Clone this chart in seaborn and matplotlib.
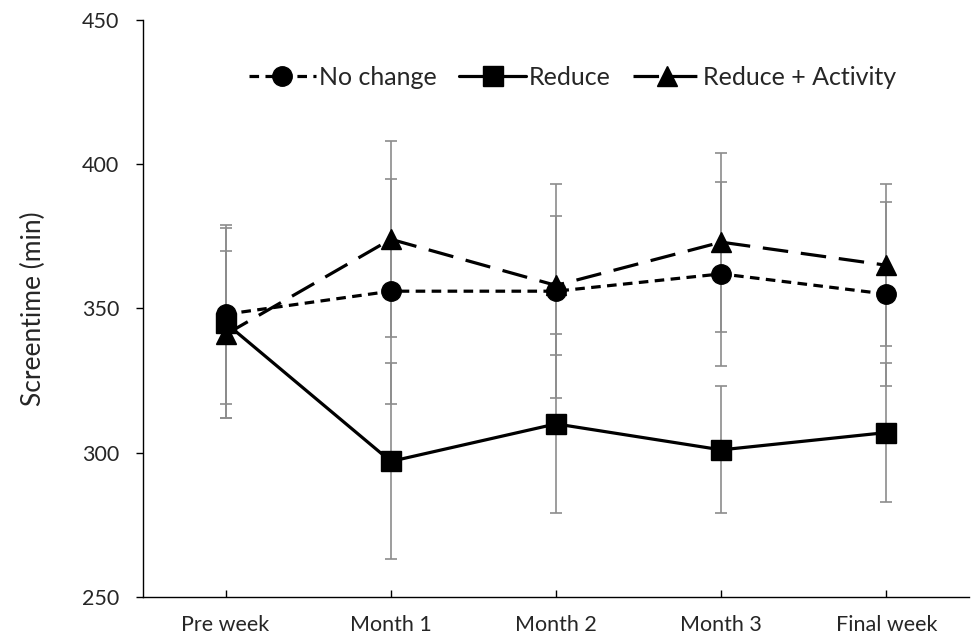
import matplotlib
matplotlib.use("Agg")
import matplotlib.pyplot as plt
import seaborn as sns
import pandas as pd
import numpy as np

categories = ["Pre week", "Month 1", "Month 2", "Month 3", "Final week"]
no_change = [348, 356, 356, 362, 355]
no_change_err = [31, 39, 37, 32, 32]
reduce_vals = [345, 297, 310, 301, 307]
reduce_err = [33, 34, 31, 22, 24]
reduce_act = [341, 374, 358, 373, 365]
reduce_act_err = [29, 34, 24, 31, 28]
y_ticks = [250, 300, 350, 400, 450]

sns.set_theme(style="white")
plt.rcParams['font.family'] = ['Lato', 'DejaVu Sans']

fig = plt.figure(figsize=(9.71, 6.44), dpi=100)
ax = fig.add_axes([143/971, 1-597/644, (969-143)/971, (597-20)/644])

x = np.arange(len(categories))
series = [
    ("No change", no_change, no_change_err, "o", (3, 2), 14),
    ("Reduce", reduce_vals, reduce_err, "s", "", 14),
    ("Reduce + Activity", reduce_act, reduce_act_err, "^", (8, 4), 14.5),
]

# error bars first (behind)
for name, vals, errs, m, d, ms in series:
    ax.errorbar(x, vals, yerr=errs, fmt="none", ecolor="#8c8c8c",
                elinewidth=1.2, capsize=4, capthick=1.2, zorder=1)

handles = []
for name, vals, errs, m, d, ms in series:
    df = pd.DataFrame({"x": x, "y": vals})
    sns.lineplot(data=df, x="x", y="y", ax=ax, color="black", linewidth=2.3,
                 marker=m, markersize=ms, markeredgecolor="black",
                 markeredgewidth=1, markerfacecolor="black", label=name,
                 zorder=3)
    line = ax.lines[-1]
    if d:
        line.set_dashes(d)
    handles.append(line)

ax.set_xlim(-0.5, len(categories) - 0.5)
ax.set_ylim(250, 450)
ax.set_yticks(y_ticks)
ax.set_xticks(x)
ax.set_xticklabels(categories, fontsize=15.5)
ax.tick_params(axis="y", labelsize=15.5, length=5, width=1, direction="out",
               left=True, color="black", pad=12)
ax.tick_params(axis="x", length=5, width=1, direction="in", bottom=True,
               color="black", pad=13)
ax.set_xlabel("")
ax.set_ylabel("Screentime (min)", fontsize=19, labelpad=26)

for s in ["top", "right"]:
    ax.spines[s].set_visible(False)
for s in ["left", "bottom"]:
    ax.spines[s].set_color("black")
    ax.spines[s].set_linewidth(1)

ax.legend(handles=handles, labels=[s[0] for s in series], loc="center",
          bbox_to_anchor=(0.52, 0.90), ncol=3, frameon=False, fontsize=18,
          handlelength=2.7, handletextpad=0.1, columnspacing=0.9)

fig.savefig("out.png", dpi=100)
